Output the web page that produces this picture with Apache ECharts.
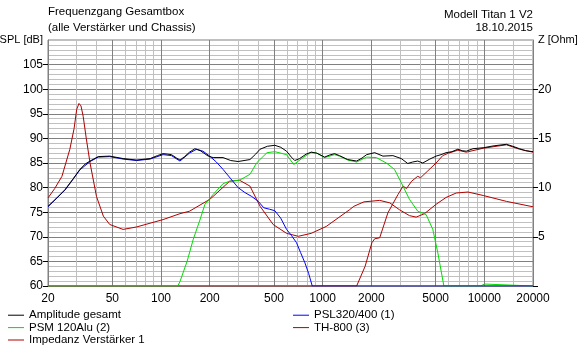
<!DOCTYPE html>
<html>
<head>
<meta charset="utf-8">
<script src="https://cdn.jsdelivr.net/npm/echarts@6/dist/echarts.min.js"></script>
<style>
html,body{margin:0;padding:0;background:#fff;}
#chart{width:580px;height:349px;}
</style>
</head>
<body>
<div id="chart"></div>
<script>
// ---- data ----
const xMajorTicks = [20, 50, 100, 200, 500, 1000, 2000, 5000, 10000, 20000];
const xMinorTicks = [30, 40, 60, 70, 80, 90, 300, 400, 600, 700, 800, 900, 3000, 4000, 6000, 7000, 8000, 9000, 15000];
const yLeftTicks = [60, 65, 70, 75, 80, 85, 90, 95, 100, 105];
const yRightTicks = [0, 5, 10, 15, 20];

const ampFreq = [20, 22.5, 25.5, 28.5, 31.5, 34, 36.4, 40.9, 48.2, 58.3, 70.6, 85.7, 95, 103, 110, 116, 125, 131, 140, 150, 162, 175, 196, 210, 242, 270, 300, 355, 385, 410, 455, 506, 550, 598, 640, 672, 720, 790, 849, 920, 1028, 1100, 1185, 1270, 1429, 1622, 1750, 1871, 2098, 2359, 2719, 3062, 3360, 3600, 3874, 4161, 4600, 5030, 5400, 5800, 6300, 6860, 7300, 7730, 8500, 9840, 11500, 13700, 15000, 16500, 18000, 20000];
const ampDb = [76.2, 77.8, 79.6, 81.7, 83.7, 84.8, 85.4, 86.3, 86.4, 85.9, 85.6, 85.9, 86.5, 86.9, 86.8, 86.7, 86.0, 85.6, 86.3, 87.2, 87.9, 87.5, 86.4, 86.1, 86.1, 85.5, 85.3, 85.7, 86.8, 87.8, 88.4, 88.6, 88.2, 87.4, 86.2, 85.5, 85.9, 86.8, 87.2, 87.0, 86.2, 86.6, 86.9, 86.5, 85.7, 85.4, 86.0, 86.7, 87.1, 86.4, 86.5, 85.9, 84.9, 85.2, 85.4, 85.0, 85.8, 86.4, 86.7, 87.1, 87.3, 87.8, 87.5, 87.4, 87.9, 88.1, 88.5, 88.8, 88.4, 87.9, 87.5, 87.3];

const pslFreq = [20, 25.5, 31.5, 36.4, 40.9, 48.2, 58.3, 70.6, 85.7, 103, 116, 131, 150, 166, 182, 200, 220, 242, 270, 300, 330, 364, 400, 432, 470, 506, 550, 598, 640, 689, 730, 777, 820, 862, 20000];
const pslDb = [76.1, 79.5, 83.6, 85.3, 86.2, 86.3, 85.8, 85.5, 85.8, 86.7, 86.5, 85.4, 87.0, 87.8, 87.4, 86.4, 85.2, 83.7, 81.8, 80.0, 79.0, 78.2, 77.2, 75.9, 75.6, 75.3, 73.8, 71.5, 70.3, 68.8, 66.8, 64.7, 62.5, 60.0, 60.0];

const psmFreq = [20, 127, 131, 145, 158, 174, 187, 210, 242, 266, 306, 355, 392, 453, 506, 598, 662, 757, 849, 920, 1028, 1185, 1270, 1429, 1622, 1871, 2147, 2477, 2783, 3062, 3445, 3874, 4367, 4800, 5160, 5620, 9500, 9700, 10000, 10200, 20000];
const psmDb = [60.0, 60.0, 60.9, 65.0, 69.4, 73.4, 76.6, 78.6, 80.8, 81.3, 81.5, 82.7, 85.1, 87.1, 87.3, 86.7, 84.7, 86.1, 87.2, 87.0, 86.1, 86.7, 86.4, 85.6, 85.2, 86.2, 86.1, 85.0, 83.7, 81.0, 77.6, 75.2, 74.5, 71.5, 66.7, 60.0, 60.0, 60.4, 60.4, 60.0, 60.0];

const thFreq = [20, 1622, 1830, 2016, 2098, 2253, 2534, 2925, 3145, 3300, 3550, 3874, 4030, 4470, 5030, 5530, 6000, 6860, 7730, 9840, 13700, 16500, 20000];
const thDb = [60.0, 60.0, 64.0, 68.8, 69.6, 69.8, 74.9, 78.6, 80.3, 79.8, 81.3, 82.3, 82.0, 83.4, 85.0, 86.5, 87.0, 87.6, 87.2, 88.0, 88.7, 87.8, 87.2];

const impFreq = [20, 22, 24.4, 27.3, 29, 30.1, 31.1, 32, 33, 34.5, 36.4, 39.9, 44, 48.2, 58.3, 70.6, 103, 131, 150, 200, 210, 266, 306, 355, 410, 494, 598, 707, 849, 1052, 1466, 1560, 1800, 2253, 2600, 2986, 3445, 3786, 4262, 5030, 5800, 6700, 7920, 9840, 13700, 20000];
const impOhm = [8.95, 9.9, 11.15, 13.9, 16.0, 17.95, 18.55, 18.3, 17.25, 15.0, 12.5, 9.1, 7.1, 6.25, 5.75, 6.0, 6.75, 7.35, 7.6, 8.8, 9.1, 10.65, 10.75, 10.15, 8.1, 6.25, 5.35, 5.05, 5.35, 6.05, 7.75, 8.1, 8.55, 8.7, 8.45, 7.75, 7.15, 7.0, 7.35, 8.3, 9.0, 9.45, 9.55, 9.2, 8.6, 8.05];

const seriesNames = ['Amplitude gesamt', 'PSL320/400 (1)', 'PSM 120Alu (2)', 'TH-800 (3)', 'Impedanz Verstärker 1'];
const seriesColors = ['#000000', '#0000ff', '#00dd00', '#b00000', '#b00000'];
const titleLines = ['Frequenzgang Gesamtbox', '(alle Verstärker und Chassis)'];
const infoLines = ['Modell Titan 1 V2', '18.10.2015'];
const leftAxisName = 'SPL [dB]';
const rightAxisName = 'Z [Ohm]';

// ---- build ----
function pairs(fs, vs) { return fs.map((f, i) => [f, vs[i]]); }
const FONT = "'Liberation Sans', Arial, sans-serif";
const txt = { fontFamily: FONT, fontSize: 11.5, color: '#000', fontWeight: 'normal' };
const nameRich = { n: { fontFamily: FONT, fontSize: 11, color: '#000' } };

function lineSeries(idx, data, yAxisIndex, z) {
  return {
    name: seriesNames[idx], type: 'line', data: data,
    xAxisIndex: 1, yAxisIndex: yAxisIndex,
    showSymbol: false, symbol: 'none', smooth: false,
    lineStyle: { width: 1, color: seriesColors[idx] },
    itemStyle: { color: seriesColors[idx] },
    z: z, animation: false, silent: true, clip: true
  };
}

const chart = echarts.init(document.getElementById('chart'), null, { renderer: 'canvas' });
chart.setOption({
  animation: false,
  backgroundColor: '#fff',
  title: [
    { text: titleLines[0], left: 48, top: 6, padding: 0, textStyle: txt },
    { text: titleLines[1], left: 48, top: 22, padding: 0, textStyle: txt },
    { text: infoLines[0], right: 47, top: 9, padding: 0, textStyle: txt },
    { text: infoLines[1], right: 47, top: 22, padding: 0, textStyle: txt }
  ],
  legend: [
    { left: 8, top: 309, orient: 'vertical', itemGap: 0, itemWidth: 16, itemHeight: 1, icon: 'rect',
      data: [seriesNames[0], seriesNames[2], seriesNames[4]], textStyle: Object.assign({}, txt, { lineHeight: 12.4, padding: 0 }), padding: 0, selectedMode: false },
    { left: 293, top: 309, orient: 'vertical', itemGap: 0, itemWidth: 16, itemHeight: 1, icon: 'rect',
      data: [seriesNames[1], seriesNames[3]], textStyle: Object.assign({}, txt, { lineHeight: 12.4, padding: 0 }), padding: 0, selectedMode: false }
  ],
  grid: { left: 48, right: 47, top: 40, bottom: 63, containLabel: false, outerBoundsMode: 'none',
    show: true, borderColor: '#808080', borderWidth: 1, backgroundColor: 'transparent' },
  xAxis: [
    { type: 'log', logBase: 10, min: 20, max: 20000, position: 'top',
      axisLine: { show: false }, axisLabel: { show: false },
      axisTick: { show: false, customValues: xMinorTicks },
      splitLine: { show: true, lineStyle: { color: '#c0c0c0', width: 1 } } },
    { type: 'log', logBase: 10, min: 20, max: 20000, position: 'bottom',
      axisLine: { show: true, lineStyle: { color: '#808080' } },
      axisTick: { show: false, customValues: xMajorTicks },
      axisLabel: { show: true, customValues: xMajorTicks, margin: 7, fontFamily: FONT, fontSize: 12, color: '#000',
        formatter: v => String(Math.round(v)) },
      splitLine: { show: true, lineStyle: { color: '#808080', width: 1 } } }
  ],
  yAxis: [
    { type: 'value', min: 60, max: 110, interval: 1, position: 'left',
      axisLine: { show: false }, axisTick: { show: false }, axisLabel: { show: false },
      splitLine: { show: true, lineStyle: { color: '#c0c0c0', width: 1 } } },
    { type: 'value', min: 60, max: 110, interval: 5, position: 'left',
      axisLine: { show: true, lineStyle: { color: '#808080' } },
      axisTick: { show: true, length: 5, customValues: yLeftTicks, lineStyle: { color: '#000' } },
      axisLabel: { show: true, margin: 5, fontFamily: FONT, fontSize: 12, color: '#000', rich: nameRich,
        formatter: v => v === 110 ? '{n|' + leftAxisName + '}' : String(v) },
      splitLine: { show: true, lineStyle: { color: '#808080', width: 1 } } },
    { type: 'value', min: 0, max: 25, interval: 5, position: 'right',
      axisLine: { show: true, lineStyle: { color: '#808080' } },
      axisTick: { show: true, length: 5, customValues: yRightTicks, lineStyle: { color: '#000' } },
      axisLabel: { show: true, margin: 5, fontFamily: FONT, fontSize: 12, color: '#000', rich: nameRich,
        formatter: v => v === 25 ? '{n|' + rightAxisName + '}' : (v === 0 ? '' : String(v)) },
      splitLine: { show: false } }
  ],
  series: [
    lineSeries(4, pairs(impFreq, impOhm), 2, 2),
    lineSeries(3, pairs(thFreq, thDb), 1, 3),
    lineSeries(2, pairs(psmFreq, psmDb), 1, 4),
    lineSeries(1, pairs(pslFreq, pslDb), 1, 5),
    lineSeries(0, pairs(ampFreq, ampDb), 1, 6)
  ]
});
</script>
</body>
</html>
